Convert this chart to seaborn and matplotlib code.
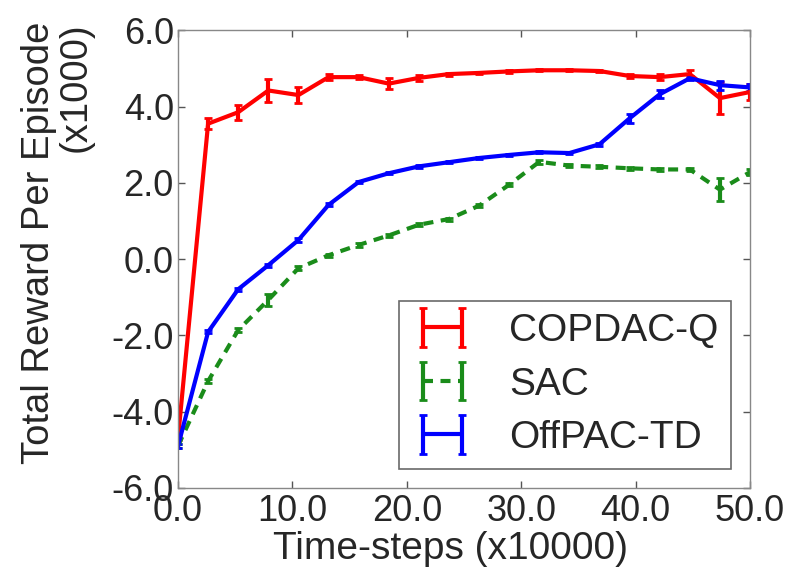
import numpy as np
import matplotlib
matplotlib.use("Agg")
import matplotlib.pyplot as plt
import seaborn as sns

# time-steps (x10000), 20 evaluation points
steps = np.linspace(0, 50, 20)

copdac_q = [-4.7, 3.55, 3.85, 4.42, 4.3, 4.77, 4.77, 4.6, 4.75, 4.85,
            4.88, 4.92, 4.95, 4.95, 4.93, 4.8, 4.77, 4.85, 4.22, 4.38]
copdac_q_err = [0.05, 0.15, 0.2, 0.3, 0.22, 0.08, 0.06, 0.15, 0.08, 0.04,
                0.03, 0.03, 0.03, 0.03, 0.03, 0.06, 0.08, 0.1, 0.42, 0.2]

sac = [-4.9, -3.2, -1.86, -1.07, -0.24, 0.1, 0.37, 0.62, 0.9, 1.05,
       1.4, 1.95, 2.55, 2.45, 2.42, 2.38, 2.35, 2.35, 1.82, 2.28]
sac_err = [0.05, 0.05, 0.06, 0.15, 0.05, 0.04, 0.04, 0.04, 0.04, 0.04,
           0.04, 0.04, 0.05, 0.04, 0.04, 0.04, 0.04, 0.05, 0.3, 0.08]

offpac_td = [-4.9, -1.91, -0.79, -0.16, 0.5, 1.42, 2.02, 2.25, 2.43, 2.54,
             2.65, 2.73, 2.8, 2.78, 3.01, 3.69, 4.32, 4.74, 4.56, 4.5]
offpac_td_err = [0.05, 0.04, 0.04, 0.04, 0.04, 0.04, 0.03, 0.03, 0.03, 0.03,
                 0.03, 0.03, 0.03, 0.03, 0.04, 0.12, 0.1, 0.05, 0.12, 0.1]

sns.set_style("ticks")
plt.rcParams["font.family"] = ["Liberation Sans", "DejaVu Sans"]
fs = 26

fig = plt.figure(figsize=(7.89, 5.70), dpi=100)
ax = fig.add_axes([0.2256, 0.1439, 0.725, 0.8031])

series = [
    ("COPDAC-Q", copdac_q, copdac_q_err, "#ff0000", "-"),
    ("SAC", sac, sac_err, "#1a8c1a", "--"),
    ("OffPAC-TD", offpac_td, offpac_td_err, "#0000ff", "-"),
]
for name, vals, err, col, ls in series:
    cont = ax.errorbar(steps, vals, yerr=err, color=col, ls=ls, lw=3,
                       elinewidth=3, capsize=3, capthick=2, label=name)
    if ls == "--":
        cont.lines[0].set_dashes((2.4, 1.8))

ax.set_xlim(0, 50)
ax.set_ylim(-6, 6)
ax.set_xticks(np.arange(0, 51, 10))
ax.set_yticks(np.arange(-6, 7, 2))
ax.set_xticklabels([f"{v:.1f}" for v in np.arange(0, 51, 10)])
ax.set_yticklabels([f"{v:.1f}" for v in np.arange(-6, 7, 2)])
ax.tick_params(direction="in", length=5, width=1, labelsize=fs, pad=4,
               top=True, right=True, color="#555555")
ax.tick_params(axis="y", pad=3)
for sp in ax.spines.values():
    sp.set_color("#888888")
    sp.set_linewidth(1.0)

ax.set_xlabel("Time-steps (x10000)", fontsize=28)
ax.xaxis.set_label_coords(0.477, -0.095)
ax.set_ylabel("Total Reward Per Episode\n(x1000)", fontsize=27.5,
              linespacing=1.0, multialignment="right")
ax.yaxis.set_label_coords(-0.148, 0.535)

leg = ax.legend(loc="lower right", numpoints=2, fontsize=28, frameon=True,
                fancybox=False, handlelength=1.6, handletextpad=0.9,
                borderpad=0.32, labelspacing=0.45, borderaxespad=0.5)
leg.get_frame().set_edgecolor("#444444")
leg.get_frame().set_linewidth(1.2)

fig.savefig("out.png", dpi=100)
